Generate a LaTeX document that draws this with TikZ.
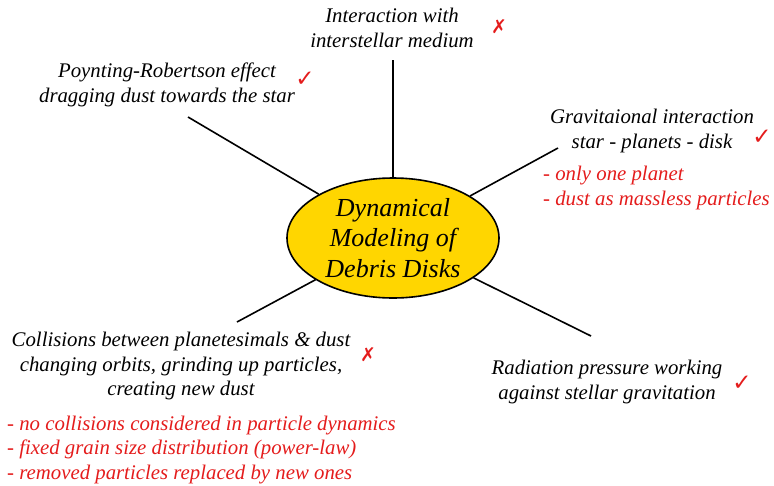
\documentclass[tikz,border=0pt]{standalone}
\usepackage{fontspec}
\setmainfont{Liberation Serif}
\newfontfamily\markfont{DejaVu Sans}
\usepackage{xcolor}
\usepackage{tikz}
\usetikzlibrary{shapes.geometric}
\definecolor{diskgold}{RGB}{255,214,0}
\definecolor{noteRed}{RGB}{228,28,28}

\begin{document}
\begin{tikzpicture}[
  x=1pt, y=-1pt,
  every node/.style={font=\fontsize{20.8}{24.8}\selectfont\itshape},
  topic/.style={align=center, inner sep=0pt},
  note/.style={align=left, inner sep=0pt, text=noteRed, anchor=west},
  core/.style={draw, ellipse, line width=1.6pt, fill=diskgold, align=center, minimum width=212pt, minimum height=120pt, inner sep=0pt, font=\fontsize{26}{30.5}\selectfont\itshape},
  spoke/.style={line width=1.6pt},
  yes/.style={text=noteRed, font=\markfont\bfseries\fontsize{23}{23}\selectfont},
  no/.style={text=noteRed, font=\markfont\bfseries\fontsize{19}{19}\selectfont}
]
\useasboundingbox (0,0) rectangle (774,485);

\node[core] (disk) at (393,238) {Dynamical\\Modeling of\\Debris Disks};

% topics round the disk
\node[topic] (ism) at (392,28) {Interaction with\\interstellar medium};
\node[topic] (pr) at (167,85) {Poynting-Robertson effect\\dragging dust towards the star};
\node[topic] (grav) at (652,131) {Gravitaional interaction\\star - planets - disk};
\node[topic] (coll) at (181,366) {Collisions between planetesimals \& dust\\changing orbits, grinding up particles,\\creating new dust};
\node[topic] (rad) at (607,382) {Radiation pressure working\\against stellar gravitation};

% assumptions
\node[note] (gravnote) at (543,188) {- only one planet\\- dust as massless particles};
\node[note] (collnote) at (7,450) {- no collisions considered in particle dynamics\\- fixed grain size distribution (power-law)\\- removed particles replaced by new ones};

% marks
\node[no] (ismmark) at (499,27) {✗};
\node[yes] (prmark) at (305,79) {✓};
\node[yes] (gravmark) at (762,137) {✓};
\node[no] (collmark) at (368,355) {✗};
\node[yes] (radmark) at (742,383) {✓};

% spoke ends
\coordinate (ismend) at (393,60);
\coordinate (prend) at (188,117);
\coordinate (gravend) at (558,148);
\coordinate (collend) at (237,322);
\coordinate (radend) at (591,336);

\draw[spoke] (disk) -- (ismend);
\draw[spoke] (disk) -- (prend);
\draw[spoke] (disk) -- (gravend);
\draw[spoke] (disk) -- (collend);
\draw[spoke] (disk) -- (radend);
\end{tikzpicture}
\end{document}
